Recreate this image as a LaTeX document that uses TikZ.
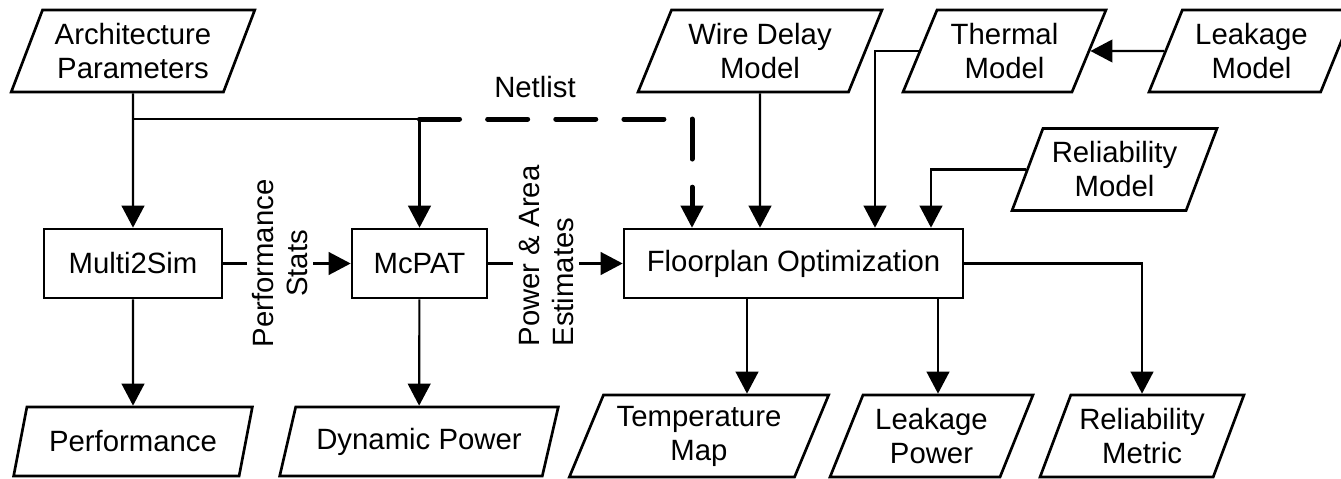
\documentclass[tikz,border=0pt]{standalone}
\usepackage{fontspec}
\setmainfont{Liberation Sans}
\usetikzlibrary{shapes.geometric,arrows.meta}

\begin{document}
\begin{tikzpicture}[x=0.75pt,y=-0.75pt,
    every node/.style={font=\fontsize{22}{25.5}\selectfont},
    proc/.style={draw, line width=2pt, minimum height=51.75pt, inner sep=0pt},
    io/.style={draw, line width=2pt, trapezium, trapezium left angle=64,
        trapezium right angle=116, trapezium stretches=true,
        inner sep=0pt, align=center},
    link/.style={line width=1.6pt},
    arr/.style={link, -{Triangle[length=16.5pt,width=17pt]}},
    netline/.style={line width=3.75pt, line cap=round, dash pattern=on 30pt off 21.1pt,
        -{Triangle[length=16.5pt,width=17pt,line width=1.6pt]}}]

\useasboundingbox (0,0) rectangle (1341,478);

\def\hbig{61.5pt}   % two-line boxes
\def\hsmall{51.75pt} % one-line boxes

% input models (top row)
\foreach \name/\x/\w/\txt in {arch/133/183/{Architecture\\Parameters},
        wire/760/183/{Wire Delay\\Model}, therm/1004.5/152.25/{Thermal\\Model},
        leakm/1251.5/153.75/{Leakage\\Model}} {
    \node[io, minimum width=\w pt, minimum height=\hbig] (\name) at (\x,51) {\txt};
}
\node[io, minimum width=153.75pt, minimum height=\hbig] (relm) at (1114.5,169.5)
    {Reliability\\Model};

% tools
\node[proc, minimum width=133.5pt] (m2s) at (133,263.5) {Multi2Sim};
\node[proc, minimum width=101.25pt] (mcpat) at (419.5,263.5) {McPAT};
\node[proc, minimum width=254.25pt] (floor) at (793.5,263.5) {Floorplan Optimization};

% outputs
\node[io, minimum width=179.25pt, minimum height=\hsmall] (perf) at (133,441.5) {Performance};
\node[io, minimum width=209.25pt, minimum height=\hsmall] (dyn) at (419,441.5) {Dynamic Power};
\foreach \name/\x/\w/\txt in {temp/699/195/{Temperature\\Map},
        leakp/931.5/152.25/{Leakage\\Power}, relmet/1142/153/{Reliability\\Metric}} {
    \node[io, minimum width=\w pt, minimum height=\hbig] (\name) at (\x,436) {\txt};
}

% labels
\node (netlbl) at (535,87) {Netlist};
\node[rotate=90, align=center, inner sep=4pt] (stats) at (280,263.5) {Performance\\Stats};
\node[rotate=90, align=left, inner sep=4pt] (est) at (546,256) {Power \& Area\\Estimates};

% architecture parameters split
\coordinate (split) at (133,119);
\coordinate (netsplit) at (mcpat.north |- split);
\draw[arr] (arch) -- (m2s);
\draw[link] (split) -- (netsplit);
\draw[arr] (netsplit) -- (mcpat);
\draw[netline] (netsplit) -| (692,0 |- floor.north);

% models into floorplan
\draw[arr] (wire) -- (wire |- floor.north);
\draw[arr] (leakm) -- (therm);
\draw[arr] (therm) -| (875,0 |- floor.north);
\draw[arr] (relm) -| (931,0 |- floor.north);

% tool chain
\draw[link] (m2s) -- (stats);
\draw[arr] (stats) -- (mcpat);
\draw[link] (mcpat) -- (mcpat -| est.north);
\draw[arr] (est.south |- floor) -- (floor);

% results
\draw[arr] (m2s) -- (perf);
\draw[arr] (mcpat) -- (dyn);
\draw[arr] (747,0 |- floor.south) -- (747,0 |- temp.north);
\draw[arr] (938,0 |- floor.south) -- (938,0 |- leakp.north);
\draw[arr] (floor) -| (relmet);

\end{tikzpicture}
\end{document}
